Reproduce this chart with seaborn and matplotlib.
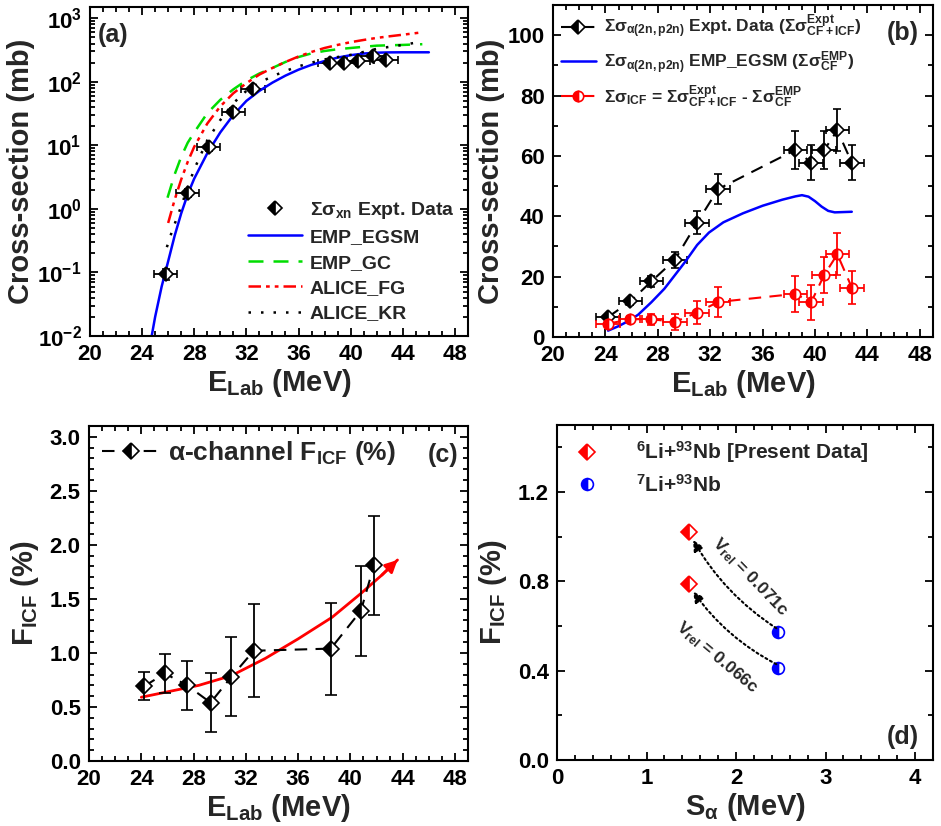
import matplotlib
matplotlib.use('Agg')
import matplotlib.pyplot as plt
import seaborn as sns
from matplotlib.ticker import MultipleLocator, LogLocator, NullFormatter

# ---- panel (a): sum of xn channels, log scale
e_xn = [25.8, 27.5, 29.1, 31.0, 32.5, 38.4, 39.5, 40.6, 41.7, 42.7]
sig_xn = [0.095, 1.8, 9.4, 34, 77, 196, 200, 213, 250, 220]
sig_xn_err = [0.02, 0.25, 1.2, 4, 9, 20, 20, 21, 25, 22]

egsm_e = [24.6, 25.0, 25.5, 26.0, 26.5, 27.0, 27.5, 28.0, 29.0, 30.0, 31.0, 32.0, 33.0,
          34.0, 35.0, 36.0, 37.0, 38.0, 39.0, 40.0, 41.0, 42.0, 43.0, 44.0, 45.0, 46.0]
egsm_sig = [0.007, 0.02, 0.06, 0.15, 0.38, 0.85, 1.7, 3.0, 7.5, 16, 30, 50, 72,
            97, 125, 155, 185, 212, 240, 262, 278, 287, 290, 291, 291, 291]
gc_e = [25.95, 26.5, 27.0, 27.5, 28.0, 29.0, 30.0, 31.0, 32.0, 33.0, 34.0, 35.0,
        36.0, 37.0, 38.0, 39.0, 40.0, 41.0, 42.0, 43.0, 44.0, 45.5]
gc_sig = [1.5, 3.5, 6.6, 11, 16, 32, 52, 76, 105, 135, 165, 205,
          245, 280, 305, 325, 340, 355, 370, 375, 380, 390]
fg_e = [26.0, 26.5, 27.0, 27.5, 28.0, 29.0, 30.0, 31.0, 32.0, 33.0, 34.0, 35.0,
        36.0, 37.0, 38.0, 39.0, 40.0, 41.0, 42.0, 43.0, 44.0, 45.5]
fg_sig = [0.6, 1.4, 2.9, 5.5, 9.5, 22, 41, 66, 95, 130, 165, 205,
          250, 295, 340, 380, 420, 455, 490, 520, 550, 600]
kr_e = [25.9, 26.3, 27.0, 27.5, 28.0, 29.0, 30.0, 31.0, 32.0, 33.0, 34.0, 35.0,
        36.0, 37.0, 38.0, 39.0, 40.0, 41.0, 42.0, 43.0, 44.0, 45.5]
kr_sig = [0.25, 0.45, 1.1, 2.2, 4.2, 12, 25, 46, 72, 97, 122, 148,
          175, 200, 225, 245, 265, 295, 330, 355, 380, 430]

# ---- panel (b): alpha(2n,p2n) channels, linear
e_b = [24.2, 25.9, 27.5, 29.3, 31.0, 32.6, 38.5, 39.7, 40.7, 41.7, 42.8]
e_b_err = [0.9] * 11
sig_tot = [6.6, 11.8, 18.4, 25.6, 37.9, 49.0, 62.0, 57.8, 62.0, 68.5, 57.8]
sig_tot_err = [0.8, 1.2, 1.9, 2.6, 3.8, 4.9, 6.2, 5.8, 6.2, 6.9, 5.8]
sig_icf = [4.4, 5.9, 5.9, 5.0, 8.1, 11.6, 14.3, 11.5, 20.6, 27.4, 16.4]
sig_icf_err = [1.2, 1.0, 1.8, 2.6, 3.9, 5.0, 6.0, 5.8, 6.0, 6.9, 5.6]
emp_e = [24.2, 25.0, 25.8, 26.5, 27.5, 28.5, 29.3, 30.1, 31.0, 31.9, 33.0, 34.5,
         36.0, 37.5, 38.5, 39.0, 39.5, 40.0, 40.5, 41.0, 41.5, 42.8]
emp_sig = [2.1, 3.6, 5.4, 7.4, 11.5, 16.0, 20.5, 25.0, 30.5, 34.6, 38.0, 41.0,
           43.5, 45.5, 46.6, 47.0, 46.5, 45.0, 43.2, 41.8, 41.3, 41.5]

# ---- panel (c): ICF fraction
e_c = [24.2, 25.8, 27.5, 29.3, 30.9, 32.6, 38.5, 40.8, 41.8]
f_icf = [0.69, 0.81, 0.70, 0.54, 0.78, 1.02, 1.04, 1.39, 1.81]
f_icf_err = [0.13, 0.18, 0.225, 0.27, 0.365, 0.43, 0.425, 0.415, 0.455]
trend_e = [24.0, 26.0, 28.4, 30.9, 33.5, 36.0, 38.6, 40.8, 42.4, 43.6]
trend_f = [0.59, 0.64, 0.70, 0.79, 0.95, 1.13, 1.33, 1.55, 1.72, 1.86]

# ---- panel (d): F_ICF vs alpha separation energy
s_li6 = [1.47, 1.47]
f_li6 = [1.02, 0.79]
s_li7 = [2.47, 2.47]
f_li7 = [0.575, 0.414]
v_rel = ['0.071c', '0.066c']

sns.set_theme(style='ticks')
plt.rcParams['font.family'] = ['Liberation Sans', 'DejaVu Sans']
plt.rcParams['font.weight'] = 'bold'
plt.rcParams['axes.labelweight'] = 'bold'
plt.rcParams['mathtext.fontset'] = 'custom'
plt.rcParams['mathtext.rm'] = 'Liberation Sans:bold'
plt.rcParams['mathtext.it'] = 'Liberation Sans:bold'
plt.rcParams['mathtext.bf'] = 'Liberation Sans:bold'
plt.rcParams['mathtext.default'] = 'regular'
plt.rcParams['axes.linewidth'] = 1.5

fig = plt.figure(figsize=(9.41, 8.26), dpi=100)
ax_a = fig.add_axes([0.0956, 0.5932, 0.4017, 0.3983])
ax_b = fig.add_axes([0.5877, 0.592, 0.4038, 0.4019])
ax_c = fig.add_axes([0.0946, 0.0787, 0.4028, 0.4056])
ax_d = fig.add_axes([0.5919, 0.0799, 0.3996, 0.4056])


def style(ax):
    ax.tick_params(which='both', direction='in', top=True, right=True,
                   width=1.3, labelsize=16, colors='black')
    ax.tick_params(which='major', length=6, pad=6)
    ax.tick_params(which='minor', length=3.5)
    for s in ax.spines.values():
        s.set_linewidth(1.5)
        s.set_color('black')


half = dict(fillstyle='left', markerfacecoloralt='white', markeredgewidth=1.2)

# ================= (a)
ax = ax_a
eb_a = ax.errorbar(e_xn, sig_xn, yerr=sig_xn_err, xerr=0.9, fmt='D', ms=7.5,
                   color='black', mfc='black', mec='black', ecolor='black',
                   elinewidth=1.3, capsize=3, ls='none', **half)
sns.lineplot(x=egsm_e, y=egsm_sig, ax=ax, color='blue', lw=1.8, sort=False, estimator=None)
l_egsm = ax.lines[-1]
sns.lineplot(x=gc_e, y=gc_sig, ax=ax, color='#00dd00', lw=1.8, sort=False, estimator=None,
             linestyle=(0, (6, 4)))
l_gc = ax.lines[-1]
sns.lineplot(x=fg_e, y=fg_sig, ax=ax, color='red', lw=1.8, sort=False, estimator=None,
             linestyle=(0, (5, 2, 1.5, 2, 1.5, 2)))
l_fg = ax.lines[-1]
sns.lineplot(x=kr_e, y=kr_sig, ax=ax, color='black', lw=1.8, sort=False, estimator=None,
             linestyle=(0, (1, 4)))
l_kr = ax.lines[-1]
ax.set_yscale('log')
ax.set_ylim(1e-2, 1.5e3)
ax.set_xlim(20, 49)
ax.xaxis.set_major_locator(MultipleLocator(4))
ax.xaxis.set_minor_locator(MultipleLocator(1))
ax.yaxis.set_major_locator(LogLocator(base=10))
ax.yaxis.set_minor_locator(LogLocator(base=10, subs=range(2, 10)))
ax.yaxis.set_minor_formatter(NullFormatter())
ax.set_xlabel('E$_{Lab}$ (MeV)', fontsize=21, labelpad=1)
ax.set_ylabel('Cross-section (mb)', fontsize=21, labelpad=2)
ax.legend([eb_a[0], l_egsm, l_gc, l_fg, l_kr],
          ['Σσ$_{xn}$ Expt. Data', 'EMP_EGSM', 'EMP_GC', 'ALICE_FG', 'ALICE_KR'],
          loc='lower right', frameon=False, fontsize=14, handlelength=2.8,
          borderaxespad=0.3, labelspacing=0.4, handletextpad=0.4)
ax.text(0.06, 0.915, '(a)', transform=ax.transAxes, fontsize=18,
        ha='center', va='center')
style(ax)

# ================= (b)
ax = ax_b
eb_b1 = ax.errorbar(e_b, sig_tot, yerr=sig_tot_err, xerr=e_b_err, fmt='D', ms=7.5,
                    color='black', mfc='black', mec='black', ecolor='black',
                    elinewidth=1.3, capsize=3, ls=(0, (6, 4)), lw=1.5, **half)
sns.lineplot(x=emp_e, y=emp_sig, ax=ax, color='blue', lw=1.8, sort=False, estimator=None)
l_emp = ax.lines[-1]
eb_b2 = ax.errorbar(e_b, sig_icf, yerr=sig_icf_err, xerr=e_b_err, fmt='o', ms=7.5,
                    color='red', mfc='red', mec='red', ecolor='red',
                    elinewidth=1.3, capsize=3, ls=(0, (6, 4)), lw=1.5, **half)
ax.set_xlim(20, 49)
ax.set_ylim(0, 110)
ax.xaxis.set_major_locator(MultipleLocator(4))
ax.xaxis.set_minor_locator(MultipleLocator(1))
ax.yaxis.set_major_locator(MultipleLocator(20))
ax.yaxis.set_minor_locator(MultipleLocator(10))
ax.set_xlabel('E$_{Lab}$ (MeV)', fontsize=21, labelpad=1)
ax.set_ylabel('Cross-section (mb)', fontsize=21, labelpad=2)
ax.legend([eb_b1[0], l_emp, eb_b2[0]],
          ['Σσ$_{α(2n,p2n)}$ Expt. Data (Σσ$^{Expt}_{CF+ICF}$)',
           'Σσ$_{α(2n,p2n)}$ EMP_EGSM (Σσ$^{EMP}_{CF}$)',
           'Σσ$_{ICF}$ = Σσ$^{Expt}_{CF+ICF}$ - Σσ$^{EMP}_{CF}$'],
          loc='upper left', frameon=False, fontsize=12.5, handlelength=2.0,
          borderaxespad=0.0, borderpad=0.45, labelspacing=0.45, handletextpad=0.5)
ax.text(0.92, 0.916, '(b)', transform=ax.transAxes, fontsize=18,
        ha='center', va='center')
style(ax)

# ================= (c)
ax = ax_c
sns.lineplot(x=trend_e, y=trend_f, ax=ax, color='red', lw=2, sort=False, estimator=None)
ax.annotate('', xy=(trend_e[-1], trend_f[-1]), xytext=(trend_e[-2], trend_f[-2]),
            arrowprops=dict(arrowstyle='-|>', color='red', lw=2,
                            mutation_scale=18, shrinkA=0, shrinkB=0))
eb_c = ax.errorbar(e_c, f_icf, yerr=f_icf_err, fmt='D', ms=8.5,
                   color='black', mfc='black', mec='black', ecolor='black',
                   elinewidth=1.3, capsize=4, ls=(0, (6, 4)), lw=1.5, **half)
ax.set_xlim(20, 49)
ax.set_ylim(0, 3.1)
ax.xaxis.set_major_locator(MultipleLocator(4))
ax.xaxis.set_minor_locator(MultipleLocator(1))
ax.yaxis.set_major_locator(MultipleLocator(0.5))
ax.yaxis.set_minor_locator(MultipleLocator(0.1))
ax.yaxis.set_major_formatter(matplotlib.ticker.FormatStrFormatter('%.1f'))
ax.set_xlabel('E$_{Lab}$ (MeV)', fontsize=21, labelpad=1)
ax.set_ylabel('F$_{ICF}$ (%)', fontsize=21, labelpad=6)
ax.legend([eb_c[0]], ['α-channel F$_{ICF}$ (%)'], loc='upper left', frameon=False,
          fontsize=19, handlelength=2.2, borderaxespad=0.1, handletextpad=0.3)
ax.text(0.934, 0.913, '(c)', transform=ax.transAxes, fontsize=18,
        ha='center', va='center')
style(ax)

# ================= (d)
ax = ax_d
p6 = ax.plot(s_li6, f_li6, 'D', ms=8, color='red', mfc='red', mec='red', **half)[0]
p7 = ax.plot(s_li7, f_li7, 'o', ms=8.5, color='blue', mfc='blue', mec='blue', **half)[0]
for i in range(2):
    ax.annotate('', xy=(s_li6[i] + 0.05, f_li6[i] - 0.035),
                xytext=(s_li7[i] - 0.02, f_li7[i] + 0.015),
                arrowprops=dict(arrowstyle='-|>', color='black', lw=1.5, ls=(0, (1, 1.5)),
                                connectionstyle='arc3,rad=-0.12', mutation_scale=16,
                                shrinkA=0, shrinkB=0))
ax.text(2.15, 0.82, 'V$_{rel}$ = ' + v_rel[0], rotation=-46, fontsize=12.5,
        ha='center', va='center', rotation_mode='anchor')
ax.text(1.79, 0.46, 'V$_{rel}$ = ' + v_rel[1], rotation=-40, fontsize=12.5,
        ha='center', va='center', rotation_mode='anchor')
ax.set_xlim(0, 4.2)
ax.set_ylim(0, 1.5)
ax.xaxis.set_major_locator(MultipleLocator(1))
ax.xaxis.set_minor_locator(MultipleLocator(0.2))
ax.yaxis.set_major_locator(MultipleLocator(0.4))
ax.yaxis.set_minor_locator(MultipleLocator(0.2))
ax.yaxis.set_major_formatter(matplotlib.ticker.FormatStrFormatter('%.1f'))
ax.set_xlabel('S$_{α}$ (MeV)', fontsize=21, labelpad=1)
ax.set_ylabel('F$_{ICF}$ (%)', fontsize=21, labelpad=6)
ax.legend([p6, p7], ['$^{6}$Li+$^{93}$Nb [Present Data]', '$^{7}$Li+$^{93}$Nb'],
          loc='upper left', frameon=False, fontsize=15, handlelength=1.5,
          borderaxespad=0.3, handletextpad=1.6, labelspacing=0.4)
ax.text(0.92, 0.069, '(d)', transform=ax.transAxes, fontsize=18,
        ha='center', va='center')
style(ax)

fig.savefig('out.png', dpi=100)
